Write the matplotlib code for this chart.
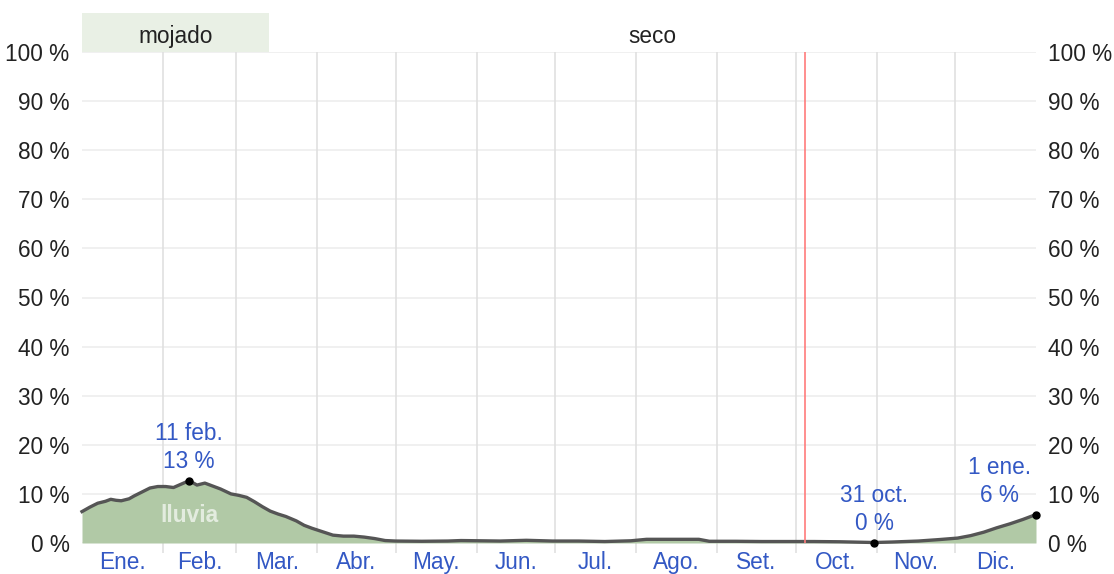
import matplotlib.pyplot as plt
import numpy as np

plt.rcParams['font.family'] = ['Liberation Sans', 'DejaVu Sans']

# Daily chance of rain (%) through the year, sampled by day of year
days = [0, 3, 6, 9, 11, 13, 15, 18, 20, 23, 26, 29, 32, 35, 38, 41, 44, 47, 50, 53,
        57, 60, 63, 66, 69, 72, 75, 78, 82, 85, 88, 92, 96, 100, 104, 108, 112, 116,
        120, 130, 140, 145, 160, 170, 180, 190, 200, 210, 216, 225, 236, 240, 250,
        260, 270, 280, 290, 303, 310, 320, 328, 335, 340, 345, 350, 355, 360, 365]
rain = [6.4, 7.3, 8.1, 8.5, 8.9, 8.7, 8.6, 9.0, 9.6, 10.4, 11.2, 11.5, 11.5, 11.3,
        12.0, 12.7, 11.8, 12.2, 11.6, 11.0, 10.0, 9.7, 9.3, 8.4, 7.4, 6.5, 5.9, 5.4,
        4.5, 3.6, 3.0, 2.3, 1.6, 1.4, 1.4, 1.2, 0.9, 0.5, 0.4, 0.35, 0.4, 0.5, 0.4,
        0.55, 0.4, 0.4, 0.3, 0.45, 0.75, 0.75, 0.75, 0.35, 0.35, 0.3, 0.3, 0.3, 0.25,
        0.1, 0.2, 0.4, 0.7, 1.0, 1.5, 2.2, 3.1, 3.9, 4.8, 5.8]

month_starts = [0, 31, 59, 90, 120, 151, 181, 212, 243, 273, 304, 334, 365]
month_names = ['Ene.', 'Feb.', 'Mar.', 'Abr.', 'May.', 'Jun.', 'Jul.', 'Ago.',
               'Set.', 'Oct.', 'Nov.', 'Dic.']

# highlighted points: (day, value, label)
marks = [(41, 12.7, '11 feb.\n13 %'), (303, 0.1, '31 oct.\n0 %'), (365, 5.8, '1 ene.\n6 %')]
today = 276.5
wet_end = 71.5

blue = '#3358c4'
fs = 16.3

fig = plt.figure(figsize=(11.14, 5.74), dpi=100)
ax = fig.add_axes([82 / 1114, 31 / 574, 954 / 1114, 491 / 574])
ax.set_xlim(0, 365)
ax.set_ylim(0, 100)

for y in range(0, 101, 10):
    ax.axhline(y, color='#ededed', lw=1.2, zorder=0)
ax.vlines(month_starts[1:-1], -2, 100, color='#e0e0e0', lw=1.2, zorder=0, clip_on=False)

ax.fill_between(days, rain, 0, color='#b1c9a6', lw=0, zorder=1)
ax.plot(days, rain, color='#555555', lw=2.4, zorder=2, clip_on=False,
        solid_joinstyle='round')
ax.axvline(today, color='#ff7b7b', lw=1.2, zorder=3)

ax.text(41, 5.5, 'lluvia', color='white', alpha=0.65, fontsize=fs,
        fontweight='bold', ha='center', va='center', zorder=3)

for d, v, lab in marks:
    ax.plot(d, v, 'o', color='black', ms=5, zorder=4, clip_on=False)
offsets = {41: 0, 303: 0, 365: -14}
for d, v, lab in marks:
    ax.text(d + offsets[d], v + 1.5, lab, color=blue, fontsize=fs, ha='center',
            va='bottom', linespacing=1.3, zorder=4)

# season band above the plot
ax.add_patch(plt.Rectangle((0, 100), wet_end, 8, color='#e9f0e5', lw=0,
                           clip_on=False, transform=ax.transData))
ax.text(wet_end / 2, 103.2, 'mojado', fontsize=fs, ha='center', va='center',
        color='#222222')
ax.text((wet_end + 365) / 2, 103.2, 'seco', fontsize=fs, ha='center', va='center',
        color='#222222')

centers = [(a + b) / 2 for a, b in zip(month_starts[:-1], month_starts[1:])]
ax.set_xticks(centers)
ax.set_xticklabels(month_names, color=blue, fontsize=fs)
ax.tick_params(axis='x', length=0, pad=6)

yt = list(range(0, 101, 10))
ax.set_yticks(yt)
ax.set_yticklabels([f'{t} %' for t in yt], fontsize=fs, color='#222222')
ax.tick_params(axis='y', length=0, pad=9)

ax2 = ax.twinx()
ax2.set_ylim(0, 100)
ax2.set_yticks(yt)
ax2.set_yticklabels([f'{t} %' for t in yt], fontsize=fs, color='#222222')
ax2.tick_params(axis='y', length=0, pad=9)

for a in (ax, ax2):
    for s in a.spines.values():
        s.set_visible(False)

fig.savefig('out.png', dpi=100)
